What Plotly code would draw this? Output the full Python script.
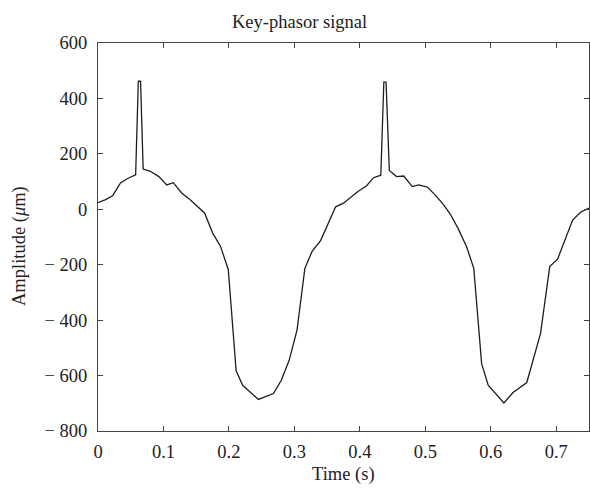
import plotly.graph_objects as go

time_s = [0, 0.0107, 0.0224, 0.0346, 0.046, 0.0575, 0.0616, 0.065, 0.069, 0.080,
          0.093, 0.105, 0.115, 0.128, 0.140, 0.151, 0.163, 0.175, 0.187, 0.199,
          0.211, 0.221, 0.245, 0.268, 0.280, 0.292, 0.304, 0.316, 0.327, 0.340,
          0.363, 0.375, 0.386, 0.397, 0.410, 0.421, 0.432, 0.4366, 0.440, 0.445,
          0.456, 0.467, 0.480, 0.490, 0.503, 0.515, 0.528, 0.538, 0.550, 0.563,
          0.574, 0.586, 0.596, 0.620, 0.634, 0.655, 0.676, 0.690, 0.702, 0.713,
          0.725, 0.738, 0.75]
amplitude = [24, 34, 49, 96, 112, 124, 462, 462, 145, 137,
             118, 88, 96, 58, 36, 12, -14, -85, -133, -217,
             -583, -635, -686, -665, -617, -545, -436, -213, -152, -113,
             9, 22, 43, 64, 84, 114, 123, 459, 459, 140,
             118, 120, 82, 88, 80, 52, 16, -17, -69, -135,
             -213, -557, -635, -699, -661, -625, -448, -207, -180, -111,
             -39, -9, 4]

x_ticks = [0, 0.1, 0.2, 0.3, 0.4, 0.5, 0.6, 0.7]
y_ticks = [600, 400, 200, 0, -200, -400, -600, -800]
y_tick_text = ["600", "400", "200", "0", "\u2212 200", "\u2212 400",
               "\u2212 600", "\u2212 800"]

FONT = "Liberation Serif"
FS = 18.5
L, R, T, B = 98, 1, 43, 60
W, H = 590, 491
plot_w = W - L - R
plot_h = H - T - B


def px_to_paper_x(px):
    return (px - L) / plot_w


def px_to_paper_y(py):
    return (H - B - py) / plot_h


fig = go.Figure()
fig.add_trace(go.Scatter(x=time_s, y=amplitude, mode="lines",
                         line=dict(color="#1e1e1e", width=1.3), showlegend=False))

axis_common = dict(showgrid=False, zeroline=False, showline=True, linecolor="#444444",
                   linewidth=1.2, mirror="ticks", ticks="inside", ticklen=5,
                   tickcolor="#444444", tickwidth=1,
                   tickfont=dict(family=FONT, size=FS, color="#222222"))
fig.update_xaxes(range=[0, 0.75], tickvals=x_ticks, ticktext=[str(v) for v in x_ticks],
                 ticklabelstandoff=4, **axis_common)
fig.update_yaxes(range=[-800, 600], tickvals=y_ticks, ticktext=y_tick_text,
                 ticklabelstandoff=6, **axis_common)

fig.update_layout(
    width=W, height=H,
    margin=dict(l=L, r=R, t=T, b=B),
    paper_bgcolor="white", plot_bgcolor="white",
    annotations=[
        dict(text="Key-phasor signal", x=px_to_paper_x(299), y=px_to_paper_y(22),
             xref="paper", yref="paper", xanchor="center", yanchor="middle",
             showarrow=False, font=dict(family=FONT, size=FS, color="#222222")),
        dict(text="Time (s)", x=px_to_paper_x(343), y=px_to_paper_y(474),
             xref="paper", yref="paper", xanchor="center", yanchor="middle",
             showarrow=False, font=dict(family=FONT, size=FS, color="#222222")),
        dict(text="Amplitude (<i>\u03bc</i>m)", x=px_to_paper_x(20), y=px_to_paper_y(246),
             xref="paper", yref="paper", xanchor="center", yanchor="middle",
             showarrow=False, textangle=-90,
             font=dict(family=FONT, size=FS, color="#222222")),
    ],
)
fig.write_html("out.html")
